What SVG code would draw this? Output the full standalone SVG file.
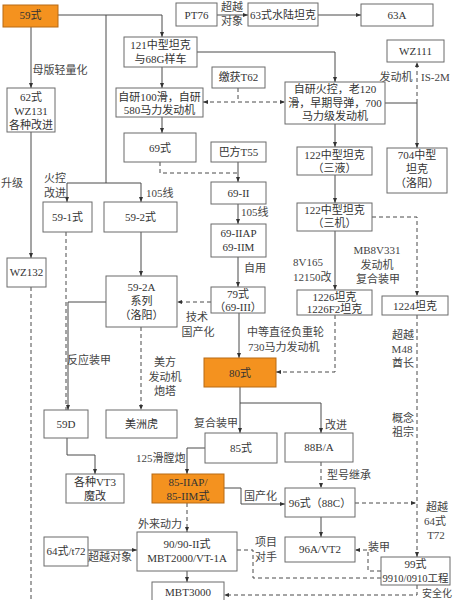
<svg xmlns="http://www.w3.org/2000/svg" width="453" height="600" viewBox="0 0 453 600">
<style>
rect{fill:#fff;stroke:#6b6b6b;stroke-width:1}
.o rect{fill:#f4921f;stroke:#b86a14}
text{font-family:"Liberation Serif","Noto Sans CJK SC",serif;font-size:11px;fill:#333;text-anchor:middle}
.lb text{fill:#444}
.s{text-anchor:start}
.c path{fill:none;stroke:#4a4a4a;stroke-width:1}
.c .d{stroke-dasharray:4,3}
</style>
<defs>
<marker id="a" viewBox="0 0 10 10" refX="10" refY="5" markerWidth="5" markerHeight="5" orient="auto-start-reverse"><path d="M0,1L10,5L0,9z" fill="#333"/></marker>
</defs>
<rect x="0" y="0" width="453" height="600" style="fill:#fff;stroke:none"/>
<g class="c" id="connectors">
<path d="M58,15H162V37" marker-end="url(#a)"/>
<path d="M31,27V88" marker-end="url(#a)"/>
<path d="M106,15V183"/>
<path d="M67,183V202" marker-end="url(#a)"/>
<path d="M67,183H141V202" marker-end="url(#a)"/>
<path d="M217,15H248" marker-end="url(#a)"/>
<path d="M318,15H361" marker-end="url(#a)"/>
<path d="M197,52H335V82" marker-end="url(#a)"/>
<path d="M162,67V88" marker-end="url(#a)"/>
<path d="M162,117V133" marker-end="url(#a)"/>
<path class="d" d="M238,88V102"/>
<path class="d" d="M203,102H285" marker-start="url(#a)" marker-end="url(#a)"/>
<path class="d" d="M417,103V62" marker-end="url(#a)"/>
<path d="M385,103H417V148" marker-end="url(#a)"/>
<path d="M335,124V147" marker-end="url(#a)"/>
<path d="M335,175V203" marker-end="url(#a)"/>
<path d="M335,231V290" marker-end="url(#a)"/>
<path class="d" d="M372,217H417V296" marker-end="url(#a)"/>
<path class="d" d="M160,162V173H238"/>
<path d="M238,162V182" marker-end="url(#a)"/>
<path d="M238,204V224" marker-end="url(#a)"/>
<path d="M238,257V287" marker-end="url(#a)"/>
<path class="d" d="M211,302H177" marker-end="url(#a)"/>
<path d="M239,313V358" marker-end="url(#a)"/>
<path class="d" d="M335,315V372H276" marker-end="url(#a)"/>
<path d="M240,387V433" marker-end="url(#a)"/>
<path d="M240,403H321V433" marker-end="url(#a)"/>
<path d="M31,132V258" marker-end="url(#a)"/>
<path class="d" d="M31,287V600"/>
<path d="M141,232V276" marker-end="url(#a)"/>
<path class="d" d="M66,232V410"/>
<path d="M106,302H68V410" marker-end="url(#a)"/>
<path class="d" d="M141,327V410" marker-end="url(#a)"/>
<path d="M67,438V455H95V474" marker-end="url(#a)"/>
<path d="M205,448H187V474" marker-end="url(#a)"/>
<path d="M224,488H241V504H285" marker-end="url(#a)"/>
<path class="d" d="M321,462V488" marker-end="url(#a)"/>
<path d="M321,517V537" marker-end="url(#a)"/>
<path class="d" d="M355,503H416" marker-end="url(#a)"/>
<path class="d" d="M417,315V557" marker-end="url(#a)"/>
<path class="d" d="M381,571H368V550H355" marker-end="url(#a)"/>
<path d="M88,550H137" marker-end="url(#a)"/>
<path class="d" d="M187,503V532" marker-end="url(#a)"/>
<path d="M187,571V582" marker-end="url(#a)"/>
<path class="d" d="M237,550H253V578H381"/>
<path class="d" d="M417,585V595H224" marker-end="url(#a)"/>
</g>
<g class="lb" id="labels">
<text x="60" y="74">母版轻量化</text>
<text x="232" y="11">超越</text>
<text x="232" y="25">对象</text>
<text x="396" y="81">发动机</text>
<text class="s" x="421" y="81">IS-2M</text>
<text x="12" y="187">升级</text>
<text x="55" y="182">火控</text>
<text x="55" y="197">改进</text>
<text class="s" x="146" y="197">105线</text>
<text class="s" x="241" y="216">105线</text>
<text class="s" x="244" y="272">自用</text>
<text class="s" x="293" y="266">8V165</text>
<text class="s" x="293" y="281">12150改</text>
<text x="377" y="254">MB8V331</text>
<text x="377" y="269">发动机</text>
<text x="378" y="283">复合装甲</text>
<text x="197" y="321">技术</text>
<text x="198" y="336">国产化</text>
<text class="s" x="247" y="336">中等直径负重轮</text>
<text class="s" x="248" y="351">730马力发动机</text>
<text x="403" y="339">超越</text>
<text x="402" y="353">M48</text>
<text x="403" y="367">酋长</text>
<text x="89" y="364">反应装甲</text>
<text x="165" y="366">美方</text>
<text x="165" y="381">发动机</text>
<text x="165" y="395">炮塔</text>
<text x="403" y="422">概念</text>
<text x="403" y="436">祖宗</text>
<text x="216" y="427">复合装甲</text>
<text class="s" x="325" y="429">改进</text>
<text class="s" x="136" y="462">125滑膛炮</text>
<text class="s" x="327" y="479">型号继承</text>
<text class="s" x="244" y="500">国产化</text>
<text x="437" y="511">超越</text>
<text x="435" y="525">64式</text>
<text x="436" y="539">T72</text>
<text x="160" y="528">外来动力</text>
<text x="266" y="546">项目</text>
<text x="266" y="561">对手</text>
<text x="379" y="551">装甲</text>
<text x="110" y="561">超越对象</text>
<text class="s" x="422" y="597" style="font-size:10px">安全化</text>
</g>
<g id="n59" class="o"><rect x="3" y="5" width="55" height="22"/><text x="30.5" y="19">59式</text></g>
<g id="nPT76"><rect x="176" y="3" width="41" height="23"/><text x="196.5" y="19">PT76</text></g>
<g id="n63"><rect x="248" y="3" width="70" height="23"/><text x="283" y="19">63式水陆坦克</text></g>
<g id="n63A"><rect x="361" y="4" width="72" height="22"/><text x="397" y="19">63A</text></g>
<g id="n121"><rect x="124" y="37" width="73" height="30"/><text x="160.5" y="49">121中型坦克</text><text x="160.5" y="63">与68G样车</text></g>
<g id="nWZ111"><rect x="387" y="40" width="57" height="22"/><text x="415.5" y="55">WZ111</text></g>
<g id="n62"><rect x="7" y="88" width="48" height="44"/><text x="31" y="101">62式</text><text x="31" y="115">WZ131</text><text x="31" y="129">各种改进</text></g>
<g id="n100"><rect x="116" y="88" width="87" height="29"/><text x="159.5" y="101">自研100滑，自研</text><text x="159.5" y="114">580马力发动机</text></g>
<g id="nT62"><rect x="212" y="67" width="53" height="21"/><text x="238.5" y="81">缴获T62</text></g>
<g id="nZY"><rect x="285" y="82" width="100" height="42"/><text x="335" y="93">自研火控，老120</text><text x="335" y="107">滑，早期导弹，700</text><text x="335" y="120">马力级发动机</text></g>
<g id="n69"><rect x="124" y="133" width="72" height="29"/><text x="160" y="152">69式</text></g>
<g id="nT55"><rect x="211" y="142" width="55" height="20"/><text x="238.5" y="156">巴方T55</text></g>
<g id="n122a"><rect x="297" y="147" width="75" height="28"/><text x="334.5" y="159">122中型坦克</text><text x="334.5" y="172">（三液）</text></g>
<g id="n704"><rect x="387" y="148" width="60" height="45"/><text x="417" y="159">704中型</text><text x="417" y="173">坦克</text><text x="417" y="187">（洛阳）</text></g>
<g id="n591"><rect x="43" y="202" width="49" height="30"/><text x="67.5" y="221">59-1式</text></g>
<g id="n592"><rect x="104" y="202" width="73" height="30"/><text x="140.5" y="221">59-2式</text></g>
<g id="n69II"><rect x="211" y="182" width="55" height="22"/><text x="238.5" y="197">69-II</text></g>
<g id="n122b"><rect x="297" y="203" width="75" height="28"/><text x="334.5" y="214">122中型坦克</text><text x="334.5" y="227">（三机）</text></g>
<g id="n69IIAP"><rect x="211" y="224" width="55" height="33"/><text x="238.5" y="237">69-IIAP</text><text x="238.5" y="251">69-IIM</text></g>
<g id="nWZ132"><rect x="7" y="258" width="39" height="29"/><text x="26.5" y="276">WZ132</text></g>
<g id="n592A"><rect x="106" y="276" width="71" height="51"/><text x="141.5" y="291">59-2A</text><text x="141.5" y="305">系列</text><text x="141.5" y="319">（洛阳）</text></g>
<g id="n79"><rect x="211" y="287" width="54" height="26"/><text x="238" y="298">79式</text><text x="238" y="311">（69-III）</text></g>
<g id="n1226"><rect x="297" y="290" width="75" height="25"/><text x="334.5" y="301">1226坦克</text><text x="334.5" y="313">1226F2坦克</text></g>
<g id="n1224"><rect x="382" y="296" width="66" height="19"/><text x="415" y="310">1224坦克</text></g>
<g id="n80" class="o"><rect x="204" y="358" width="72" height="29"/><text x="240" y="377">80式</text></g>
<g id="n59D"><rect x="44" y="410" width="44" height="28"/><text x="66" y="428">59D</text></g>
<g id="nJaguar"><rect x="106" y="410" width="71" height="28"/><text x="141.5" y="428">美洲虎</text></g>
<g id="n85"><rect x="205" y="433" width="72" height="30"/><text x="241" y="452">85式</text></g>
<g id="n88BA"><rect x="285" y="433" width="68" height="29"/><text x="319" y="451">88B/A</text></g>
<g id="nVT3"><rect x="66" y="474" width="58" height="29"/><text x="95" y="486">各种VT3</text><text x="95" y="500">魔改</text></g>
<g id="n85IIAP" class="o"><rect x="152" y="474" width="72" height="29"/><text x="188" y="486">85-IIAP/</text><text x="188" y="500">85-IIM式</text></g>
<g id="n96"><rect x="285" y="488" width="70" height="29"/><text x="320" y="507">96式（88C）</text></g>
<g id="n90"><rect x="137" y="532" width="100" height="39"/><text x="187" y="548">90/90-II式</text><text x="187" y="562">MBT2000/VT-1A</text></g>
<g id="n64"><rect x="44" y="537" width="44" height="29"/><text x="66" y="555">64式/t72</text></g>
<g id="n96A"><rect x="285" y="537" width="70" height="25"/><text x="320" y="553">96A/VT2</text></g>
<g id="n99"><rect x="381" y="557" width="69" height="28"/><text x="415.5" y="568">99式</text><text x="415.5" y="582" style="font-size:10.5px">9910/0910工程</text></g>
<g id="nMBT3000"><rect x="152" y="582" width="72" height="25"/><text x="188" y="596">MBT3000</text></g>
</svg>
